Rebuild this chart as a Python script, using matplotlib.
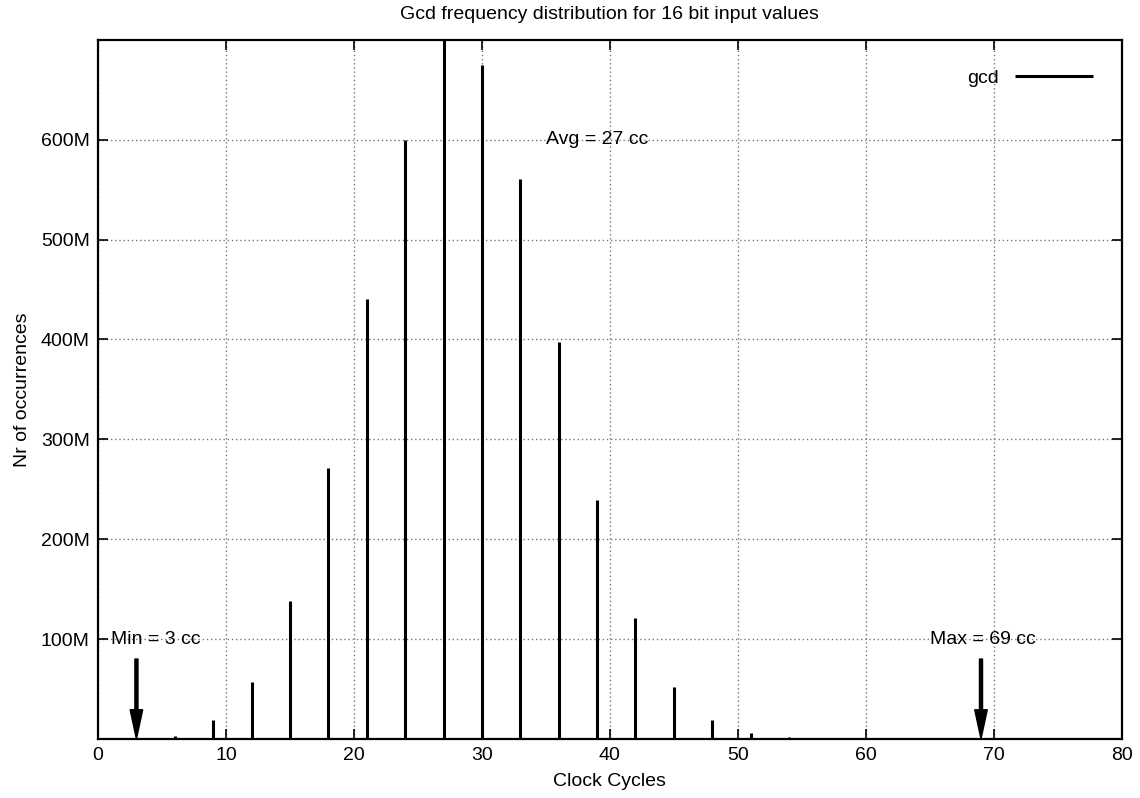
import matplotlib
matplotlib.use("Agg")
import matplotlib.pyplot as plt
import numpy as np

plt.rcParams['font.family'] = ['Liberation Sans', 'DejaVu Sans']

# Clock cycles and number of occurrences (millions)
cycles = [3, 6, 9, 12, 15, 18, 21, 24, 27, 30, 33, 36, 39, 42, 45, 48, 51, 54]
counts_m = [0, 3, 19, 57, 138, 271, 441, 600, 720, 675, 561, 397, 239, 121, 52, 19, 6, 1.5]

y_ticks = [100e6, 200e6, 300e6, 400e6, 500e6, 600e6]
y_tick_labels = ['100M', '200M', '300M', '400M', '500M', '600M']
x_ticks = list(range(0, 81, 10))

min_cc, avg_cc, max_cc = 3, 27, 69

fs = 14
fig = plt.figure(figsize=(11.4, 7.98), dpi=100)
ax = fig.add_axes([0.086, 0.074, 0.898, 0.876])

counts = np.array(counts_m) * 1e6
ax.vlines(cycles, 0, counts, color='black', linewidth=2.2, label='gcd')

ax.set_xlim(0, 80)
ax.set_ylim(0, 700e6)
ax.set_xticks(x_ticks)
ax.set_yticks(y_ticks)
ax.set_yticklabels(y_tick_labels)
ax.tick_params(direction='in', length=7, top=True, right=True, labelsize=fs, width=1.2, pad=6)
ax.grid(True, color='#777777', linestyle=(0, (1, 2)), linewidth=1)
for s in ax.spines.values():
    s.set_linewidth(1.6)

ax.set_xlabel('Clock Cycles', fontsize=fs, labelpad=6)
ax.set_ylabel('Nr of occurrences', fontsize=fs, labelpad=7)
ax.set_title('Gcd frequency distribution for 16 bit input values', fontsize=fs, pad=15)

# annotations
ax.text(1, 100e6, 'Min = %d cc' % min_cc, fontsize=fs, va='center', ha='left')
ax.text(35, 600e6, 'Avg = %d cc' % avg_cc, fontsize=fs, va='center', ha='left')
ax.text(65, 100e6, 'Max = %d cc' % max_cc, fontsize=fs, va='center', ha='left')
for xa in (min_cc, max_cc):
    ax.annotate('', xy=(xa, 0), xytext=(xa, 80e6),
                arrowprops=dict(width=2.2, headwidth=9, headlength=21,
                                color='black', shrink=0))

ax.legend(loc='upper right', frameon=False, fontsize=fs, markerfirst=False,
          handlelength=4.0, borderaxespad=1.1)

fig.savefig('out.png', dpi=100)
